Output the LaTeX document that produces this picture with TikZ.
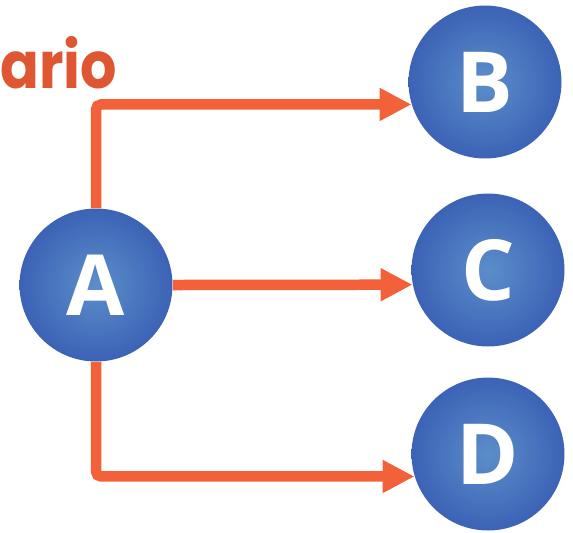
\documentclass[tikz,border=0pt]{standalone}
\usepackage{fontspec}
\newfontfamily\ballfont{Open Sans}
\newfontfamily\headfont{Poppins}
\usetikzlibrary{arrows.meta,positioning}

\definecolor{linkorange}{RGB}{243,97,58}
\definecolor{headorange}{RGB}{222,87,50}
\definecolor{ballin}{RGB}{92,142,202}
\definecolor{ballout}{RGB}{30,58,162}
\pgfdeclareradialshading{ballshade}{\pgfpoint{0bp}{0bp}}{color(0bp)=(ballin); color(48bp)=(ballout); color(50bp)=(ballout)}

\begin{document}
\begin{tikzpicture}[
    x=0.02cm, y=-0.02cm,
    ball/.style={circle, shading=ballshade, minimum size=3.06cm, inner sep=0pt, text=white, font=\ballfont\bfseries\fontsize{48}{48}\selectfont},
    link/.style={draw=linkorange, line width=0.21cm, rounded corners=0.1cm, -{Triangle[length=0.64cm,width=0.62cm]}},
    heading/.style={anchor=base west, inner sep=0pt, text=headorange, font=\headfont\bfseries\fontsize{37}{37}\selectfont}
]
    \useasboundingbox (0,0) rectangle (573,532);

    % Title
    \node[heading] (title) at (0,88) {\scalebox{0.88}[1]{ario}};

    % Nodes
    \node[ball] (A) at (96,285) {A};
    \node[ball] (B) at (485,82) {B};
    \node[ball] (C) at (488,270) {C};
    \node[ball] (D) at (488,454) {D};

    % Arrows from A
    \draw[link] (A.north) |- (B.197);
    \draw[link] (A.east) -- (C.191);
    \draw[link] (A.south) |- (D.197);
\end{tikzpicture}
\end{document}
